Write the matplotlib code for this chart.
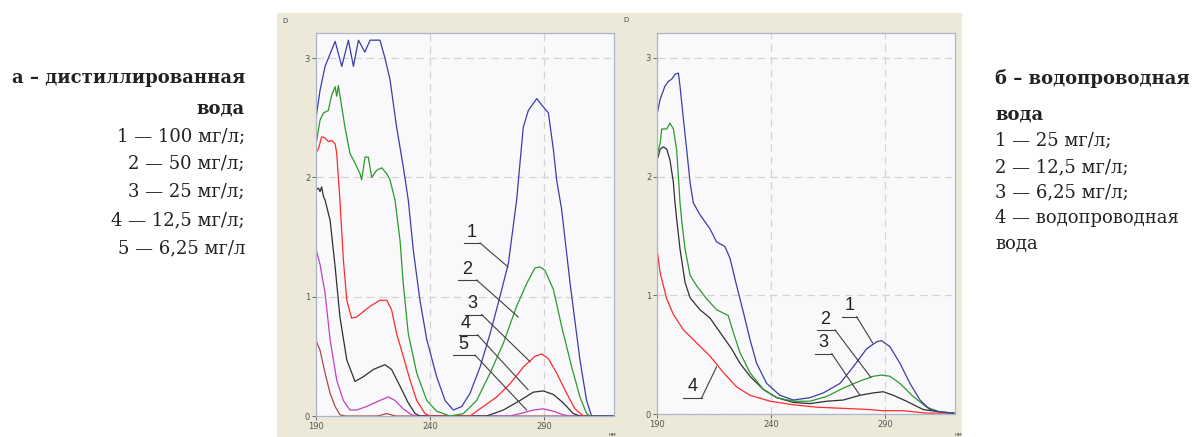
import numpy as np
import matplotlib.pyplot as plt
from matplotlib.patches import Rectangle

# --- panel a: distilled water ---
a1_nm = [190, 191.9, 194.1, 198.5, 201.4, 204.3, 206.5, 208.7, 211.5, 213.8, 218.1, 220.3, 222.5, 225.4, 228.3,
         230.5, 232.7, 235.6, 238.6, 242.9, 246.6, 250.2, 253.9, 257.5, 261.9, 266.3, 270.6, 274.3, 277.9,
         280.8, 283, 286.7, 289.6, 291.8, 294, 295.4, 297.6, 301.3, 305.6, 308.5, 310.7, 320]
a1_d = [2.48, 2.73, 2.93, 3.14, 2.93, 3.15, 2.93, 3.15, 3.05, 3.15, 3.15, 3.0, 2.82, 2.42, 2.09,
        1.81, 1.39, 0.97, 0.64, 0.33, 0.13, 0.05, 0.08, 0.19, 0.41, 0.69, 1.0, 1.28, 1.81,
        2.42, 2.56, 2.66, 2.59, 2.54, 2.23, 1.98, 1.73, 1.11, 0.47, 0.13, 0.0, 0.0]

a2_nm = [190, 191.9, 193.4, 195.5, 197, 198.5, 199.2, 199.9, 201.4, 202.8, 205, 207.2, 209.4, 210.1, 211.6,
         213, 214.5, 216.7, 218.9, 221.1, 222.5, 224.7, 226.9, 228.3, 230.5, 234.2, 238.6, 242.9, 248.8,
         254.6, 260.4, 266.3, 272.1, 277.9, 282.3, 285.9, 288.1, 290.3, 294, 297.6, 302, 305.6, 308.5, 310, 320]
a2_d = [2.26, 2.48, 2.54, 2.56, 2.69, 2.76, 2.68, 2.77, 2.59, 2.42, 2.2, 2.12, 2.03, 1.98, 2.17,
        2.17, 2.0, 2.06, 2.08, 2.03, 1.98, 1.81, 1.47, 1.11, 0.69, 0.36, 0.13, 0.04, 0.0,
        0.02, 0.13, 0.36, 0.61, 0.92, 1.11, 1.24, 1.25, 1.22, 1.06, 0.75, 0.41, 0.16, 0.02, 0.0, 0.0]

a3_nm = [190, 191.2, 192.6, 194.1, 195.5, 197, 198.5, 199.2, 199.9, 200.6, 202.1, 203.6, 205.7, 207.9, 213.8,
         218.1, 221.1, 223.2, 225.4, 228.3, 231.3, 234.2, 237.8, 240, 257.5, 263.3, 269.2, 275, 280.8,
         285.9, 288.9, 291.8, 295.4, 299.8, 303.4, 307.1, 320]
a3_d = [2.2, 2.24, 2.34, 2.33, 2.3, 2.31, 2.28, 2.2, 2.0, 1.81, 1.31, 0.97, 0.82, 0.83, 0.92,
        0.97, 0.97, 0.89, 0.69, 0.5, 0.3, 0.13, 0.02, 0.0, 0.0, 0.08, 0.16, 0.27, 0.41,
        0.5, 0.52, 0.48, 0.36, 0.19, 0.06, 0.0, 0.0]

a4_nm = [190, 191.2, 191.9, 192.6, 193.4, 194.1, 196.3, 198.5, 200.6, 203.6, 207.2, 210.9, 215.2, 220.3,
         223.2, 226.9, 230.5, 233.5, 235.6, 264.8, 272.1, 279.4, 285.2, 289.6, 294, 298.3, 302.7, 305.6, 320]
a4_d = [1.89, 1.91, 1.88, 1.92, 1.84, 1.81, 1.64, 1.25, 0.83, 0.47, 0.29, 0.33, 0.39, 0.43,
        0.39, 0.25, 0.11, 0.02, 0.0, 0.0, 0.05, 0.13, 0.2, 0.21, 0.18, 0.11, 0.02, 0.0, 0.0]

a5_nm = [190, 191.9, 194.1, 196.3, 199.2, 202.1, 205, 207.9, 212.3, 218.1, 221.8, 224.7, 228.3, 232, 234,
         275, 279.4, 285.2, 289.6, 294, 298.3, 301, 320]
a5_d = [1.41, 1.27, 1.03, 0.64, 0.3, 0.13, 0.05, 0.05, 0.08, 0.13, 0.16, 0.13, 0.06, 0.01, 0.0,
        0.0, 0.02, 0.05, 0.06, 0.04, 0.01, 0.0, 0.0]

a6_nm = [190, 191.9, 194.1, 196.3, 198.5, 200.6, 203, 217, 221.1, 225, 320]
a6_d = [0.64, 0.55, 0.36, 0.19, 0.08, 0.01, 0.0, 0.0, 0.02, 0.0, 0.0]

# --- panel b: tap water ---
b1_nm = [190, 191.5, 193.6, 195.1, 196.6, 198, 199.5, 200.2, 201.7, 203.1, 204.6, 206, 208.9, 213.3, 216.2,
         219.9, 222.1, 225, 227.9, 230.8, 233.7, 238.1, 243.9, 249.8, 257.1, 262.9, 270.2, 276, 281.8,
         286.2, 288.3, 292, 296.4, 300.8, 305.2, 309.5, 313.9, 320]
b1_d = [2.51, 2.65, 2.76, 2.8, 2.82, 2.86, 2.87, 2.76, 2.48, 2.23, 1.95, 1.78, 1.68, 1.56, 1.45,
        1.41, 1.31, 1.08, 0.86, 0.63, 0.43, 0.26, 0.16, 0.12, 0.14, 0.18, 0.26, 0.4, 0.55,
        0.61, 0.62, 0.57, 0.43, 0.26, 0.12, 0.04, 0.02, 0.01]

b2_nm = [190, 191.5, 192.2, 194.4, 195.8, 197.3, 198.7, 199.5, 200.2, 201, 202.4, 204.6, 207.5, 211.9, 216.2,
         221.3, 223.5, 226.4, 230.8, 236.6, 242.5, 249.8, 257.1, 264.4, 271.6, 278.9, 284.8, 288.4, 292,
         296.4, 302.2, 308.1, 313.9, 320]
b2_d = [2.17, 2.28, 2.4, 2.4, 2.45, 2.4, 2.23, 2.0, 1.78, 1.62, 1.39, 1.17, 1.08, 0.97, 0.88,
        0.83, 0.69, 0.52, 0.35, 0.21, 0.14, 0.11, 0.11, 0.15, 0.22, 0.28, 0.32, 0.33, 0.32,
        0.26, 0.15, 0.06, 0.02, 0.01]

b3_nm = [190, 190.7, 191.5, 192.9, 194.4, 195.8, 197.3, 198, 198.7, 200.2, 202.4, 204.6, 208.9, 213.3, 217.7,
         222.8, 226.4, 230.8, 236.6, 242.5, 249.8, 257.1, 264.4, 271.6, 278.9, 284.8, 289.1, 293.5, 299.3,
         306.6, 313.9, 320]
b3_d = [2.14, 2.17, 2.23, 2.25, 2.23, 2.14, 1.95, 1.78, 1.65, 1.39, 1.11, 0.98, 0.88, 0.81, 0.69,
        0.55, 0.43, 0.32, 0.21, 0.14, 0.1, 0.09, 0.11, 0.12, 0.16, 0.18, 0.19, 0.16, 0.11,
        0.04, 0.02, 0.01]

b4_nm = [190, 191.5, 194.4, 197.3, 201.7, 207.5, 213.3, 219.2, 225, 230.8, 239.6, 249.8, 260, 271.6, 283,
         289.1, 297.9, 308.1, 320]
b4_d = [1.41, 1.19, 0.97, 0.84, 0.71, 0.6, 0.49, 0.35, 0.23, 0.16, 0.11, 0.08, 0.06, 0.05, 0.04,
        0.03, 0.03, 0.01, 0.01]

# labels: text pos, underline (x0, x1, y), leader end
a_labels = ['1', '2', '3', '4', '5']
a_text = [(258.0, 1.47), (256.3, 1.16), (258.6, 0.87), (255.8, 0.70), (254.5, 0.53)]
a_under = [(254.9, 261.9, 1.45), (252.4, 260.4, 1.14), (255.3, 262.6, 0.85), (252.8, 260.8, 0.68), (250.0, 259.7, 0.51)]
a_end = [(274.1, 1.25), (278.6, 0.83), (283.8, 0.455), (282.9, 0.22), (282.3, 0.05)]

b_labels = ['1', '2', '3', '4']
b_text = [(274.3, 0.84), (263.6, 0.73), (262.9, 0.53), (205.7, 0.16)]
b_under = [(270.9, 277.5, 0.82), (260.0, 268.0, 0.71), (259.3, 266.6, 0.51), (201.7, 209.7, 0.14)]
b_end = [(284.5, 0.6), (283.7, 0.31), (278.9, 0.16), (216.2, 0.4)]

C_BLUE = '#3c3caa'
C_GREEN = '#2a9a2a'
C_RED = '#ff2a2a'
C_BLACK = '#303030'
C_MAG = '#c040c0'
C_BROWN = '#a84848'

fig = plt.figure(figsize=(11.97, 4.37), dpi=100)
fig.patch.set_facecolor('white')

W, H = 1197.0, 437.0
beige = '#ece9d8'
fig.patches.append(Rectangle((277 / W, 0), (962 - 277) / W, (437 - 13) / H, transform=fig.transFigure,
                             facecolor=beige, edgecolor='none', zorder=-10))

ax1 = fig.add_axes([315.7 / W, 21 / H, 298.3 / W, 383 / H])
ax2 = fig.add_axes([656.7 / W, 22.7 / H, 298.3 / W, 381.6 / H])

for ax in (ax1, ax2):
    ax.set_facecolor('#f9f9fb')
    ax.set_xlim(190, 320.5)
    ax.set_ylim(0, 3.21)
    ax.set_xticks([190, 240, 290])
    ax.set_yticks([0, 1, 2, 3])
    ax.tick_params(labelsize=6, colors='#555555', length=3, width=0.6, pad=1)
    ax.grid(True, linestyle=(0, (6, 4)), color='#d4d4d4', linewidth=0.9)
    for s in ax.spines.values():
        s.set_color('#a9b6c9')
        s.set_linewidth(0.9)

lw = 0.9
ax1.plot(a6_nm, a6_d, color=C_BROWN, lw=lw)
ax1.plot(a5_nm, a5_d, color=C_MAG, lw=lw)
ax1.plot(a4_nm, a4_d, color=C_BLACK, lw=lw)
ax1.plot(a3_nm, a3_d, color=C_RED, lw=lw)
ax1.plot(a2_nm, a2_d, color=C_GREEN, lw=lw)
ax1.plot(a1_nm, a1_d, color=C_BLUE, lw=lw)

ax2.plot(b4_nm, b4_d, color=C_RED, lw=lw)
ax2.plot(b3_nm, b3_d, color=C_BLACK, lw=lw)
ax2.plot(b2_nm, b2_d, color=C_GREEN, lw=lw)
ax2.plot(b1_nm, b1_d, color=C_BLUE, lw=lw)

for ax, labs, tp, up, ep in ((ax1, a_labels, a_text, a_under, a_end), (ax2, b_labels, b_text, b_under, b_end)):
    for lab, t, u, e in zip(labs, tp, up, ep):
        ax.text(t[0], t[1], lab, fontsize=13, family='Liberation Sans', color='#222222',
                ha='center', va='bottom')
        ax.plot([u[0], u[1]], [u[2], u[2]], color='#404040', lw=0.8)
        ax.plot([u[1], e[0]], [u[2], e[1]], color='#404040', lw=0.8)

# small axis captions
fig.text(285 / W, 1 - 21 / H, 'D', fontsize=5, color='#444444', ha='center', va='center')
fig.text(626 / W, 1 - 20 / H, 'D', fontsize=5, color='#444444', ha='center', va='center')
fig.text(612 / W, 1 - 435 / H, 'нм', fontsize=4, color='#444444', ha='center', va='center')
fig.text(958 / W, 1 - 435 / H, 'нм', fontsize=4, color='#444444', ha='center', va='center')

# captions
serif = ['DejaVu Serif']
fs = 13
left_lines = ['1 — 100 мг/л;', '2 — 50 мг/л;', '3 — 25 мг/л;', '4 — 12,5 мг/л;', '5 — 6,25 мг/л']
left_y = [137, 164, 192, 220, 248]
fig.text(245 / W, 1 - 78 / H, 'а – дистиллированная', fontsize=fs, fontweight='bold', family=serif,
         ha='right', va='center', color='#222222')
fig.text(245 / W, 1 - 108 / H, 'вода', fontsize=fs, fontweight='bold', family=serif,
         ha='right', va='center', color='#222222')
for s, y in zip(left_lines, left_y):
    fig.text(245 / W, 1 - y / H, s, fontsize=fs, family=serif, ha='right', va='center', color='#222222')

right_lines = ['1 — 25 мг/л;', '2 — 12,5 мг/л;', '3 — 6,25 мг/л;', '4 — водопроводная', 'вода']
right_y = [141, 167, 192, 218, 244]
fig.text(995 / W, 1 - 78 / H, 'б – водопроводная', fontsize=fs, fontweight='bold', family=serif,
         ha='left', va='center', color='#222222')
fig.text(995 / W, 1 - 114 / H, 'вода', fontsize=fs, fontweight='bold', family=serif,
         ha='left', va='center', color='#222222')
for s, y in zip(right_lines, right_y):
    fig.text(995 / W, 1 - y / H, s, fontsize=fs, family=serif, ha='left', va='center', color='#222222')

fig.savefig('out.png', dpi=100)
